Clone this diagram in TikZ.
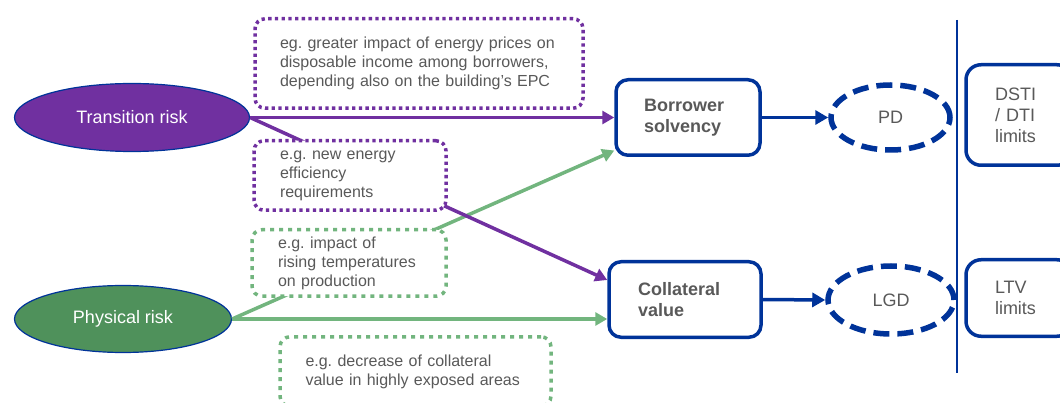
\documentclass[tikz,border=0pt]{standalone}
\usepackage{fontspec}
\setmainfont{Liberation Sans}
\usetikzlibrary{arrows.meta,shapes.geometric}
\definecolor{purp}{HTML}{7030A0}
\definecolor{gfill}{HTML}{4F915B}
\definecolor{glite}{HTML}{72B57E}
\definecolor{eblue}{HTML}{003399}
\definecolor{tgray}{HTML}{595959}
\frenchspacing
\hyphenpenalty=10000
\begin{document}
\begin{tikzpicture}[x=1pt,y=-1pt,
  riskell/.style={ellipse, draw=eblue, line width=1.2pt, inner sep=0pt, text=white,
    font=\fontsize{18}{21}\selectfont},
  note/.style={rectangle, rounded corners=10pt, fill=white, line width=3.5pt, inner ysep=0pt,
    align=left, text=tgray, font=\fontsize{16}{19}\selectfont},
  purpnote/.style={note, draw=purp, dash pattern=on 3.3pt off 3.4pt},
  greennote/.style={note, draw=glite, dash pattern=on 4pt off 5pt},
  mainbox/.style={rectangle, rounded corners=12pt, draw=eblue, fill=white, line width=3.5pt,
    inner ysep=0pt, align=left, text=tgray, font=\bfseries\fontsize{18}{21}\selectfont},
  limitbox/.style={rectangle, rounded corners=15pt, draw=eblue, fill=white, line width=3.5pt,
    inner ysep=0pt, align=left, text=tgray, font=\fontsize{18}{21}\selectfont},
  riskmeasure/.style={ellipse, draw=eblue, line width=5.5pt, dash pattern=on 16pt off 8pt,
    inner sep=0pt, text=tgray, font=\fontsize{18}{21}\selectfont},
  purparrow/.style={draw=purp, line width=3.5pt, -{Triangle[length=12pt,width=13pt]}},
  greenarrow/.style={draw=glite, line width=3.5pt, -{Triangle[length=12pt,width=13pt]}},
  bluearrow/.style={draw=eblue, line width=3.5pt, -{Triangle[length=13pt,width=14pt]}}
]
\useasboundingbox (0,0) rectangle (1060,403);
\clip (0,0) rectangle (1060,403);

% risk drivers
\node[riskell, fill=purp, minimum width=235pt, minimum height=68pt] (tr) at (132,117.5) {Transition risk};
\node[riskell, fill=gfill, minimum width=217pt, minimum height=67pt] (pr) at (123,319) {Physical risk};

% main boxes
\node[mainbox, text width=88pt, inner xsep=28pt, minimum height=75.5pt] (bs) at (688,117.5) {Borrower\\solvency};
\node[mainbox, text width=94pt, inner xsep=29pt, minimum height=75.5pt] (cv) at (685,299.5) {Collateral\\value};

% risk measures
\node[riskmeasure, minimum width=119pt, minimum height=65pt] (pd) at (890.5,117.5) {PD};
\node[riskmeasure, minimum width=126pt, minimum height=68pt] (lgd) at (891,300) {LGD};

% limits
\node[limitbox, text width=48pt, inner xsep=29pt, minimum height=100.5pt] (dsti) at (1019,115) {DSTI\\/ DTI\\limits};
\node[limitbox, text width=48pt, inner xsep=29pt, minimum height=76.5pt] (ltv) at (1019,298) {LTV\\limits};

% separator
\coordinate (septop) at (957,20);
\coordinate (sepbot) at (957,373);
\draw[eblue, line width=1.5pt] (septop) -- (sepbot);

% connectors
\draw[greenarrow] (pr.east) -- ([yshift=-33pt]bs.west);
\draw[greenarrow] (pr.east) -- ([yshift=-19.5pt]cv.west);
\draw[purparrow] (tr.east) -- (bs.west);
\draw[purparrow] (tr.east) -- ([yshift=19.5pt]cv.west);
\draw[bluearrow] (bs.east) -- (pd.west);
\draw[bluearrow] (cv.east) -- (lgd.west);

% example notes
\node[purpnote, text width=278pt, inner xsep=25pt, minimum height=89.5pt] (n1) at (419,63.5)
  {eg. greater impact of energy prices on\\disposable income among borrowers,\\depending also on the building’s EPC};
\node[purpnote, text width=140pt, inner xsep=26pt, minimum height=69.5pt] (n2) at (350,175.5)
  {e.g. new energy\\efficiency\\requirements};
\node[greennote, text width=142pt, inner xsep=26pt, minimum height=66.5pt] (n3) at (349,263)
  {e.g. impact of\\rising temperatures\\on production};
\node[greennote, text width=220pt, inner xsep=25.5pt, minimum height=69.5pt] (n4) at (415.5,371.5)
  {e.g. decrease of collateral\\value in highly exposed areas};
\end{tikzpicture}
\end{document}
